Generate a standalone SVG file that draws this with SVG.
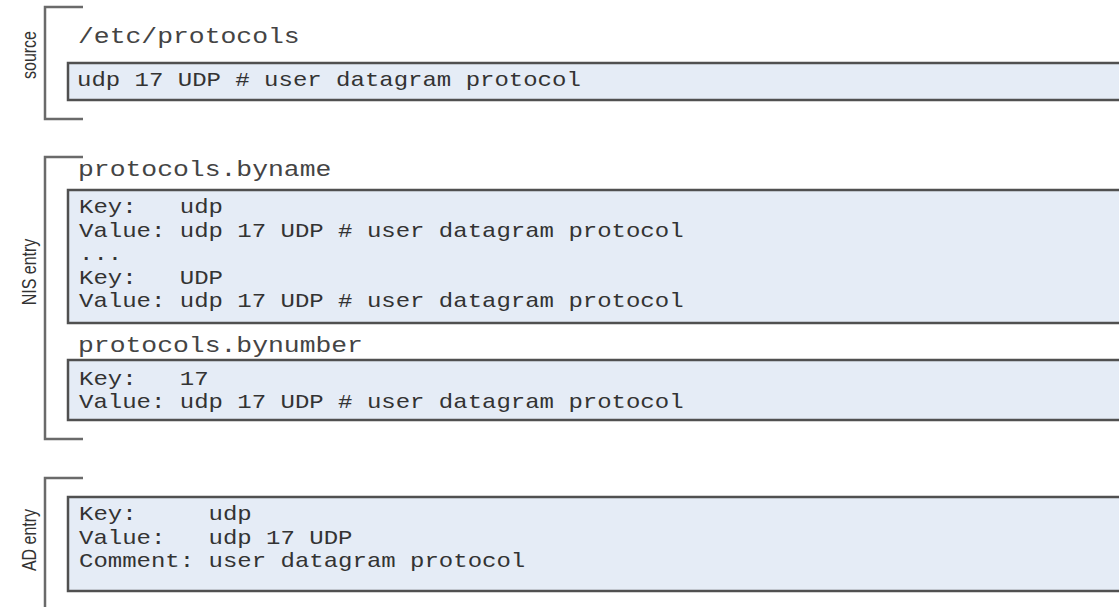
<svg xmlns="http://www.w3.org/2000/svg" width="1119" height="607" viewBox="0 0 1119 607">
<style>
.bracket{fill:none;stroke:#6a6a6a;stroke-width:2.5}
.box{fill:#e5ecf6;stroke:#505050;stroke-width:2.5}
.body{font-family:"Liberation Mono","Courier New",monospace;font-size:20px;fill:#333;white-space:pre}
.head{font-family:"Liberation Mono","Courier New",monospace;font-size:22px;fill:#444;white-space:pre}
.side{font-family:"Liberation Sans",Arial,sans-serif;font-size:16px;fill:#333;text-anchor:middle}
</style>
<rect width="1119" height="607" fill="#ffffff"/>
<g id="source">
<path class="bracket" d="M83,7 H45 V119 H83"/>
<text class="side" transform="translate(36,55) scale(1.25,1) rotate(-90)">source</text>
<text class="head" transform="translate(78,43) scale(1.2,1)">/etc/protocols</text>
<rect class="box" x="68" y="63" width="1070" height="37"/>
<text class="body" transform="translate(77,86) scale(1.2,1)">udp 17 UDP # user datagram protocol</text>
</g>
<g id="nis">
<path class="bracket" d="M83,157 H45 V439 H83"/>
<text class="side" transform="translate(36,272) scale(1.25,1) rotate(-90)">NIS entry</text>
<text class="head" transform="translate(78,176) scale(1.2,1)">protocols.byname</text>
<rect class="box" x="68" y="190" width="1070" height="133"/>
<text class="body" transform="translate(79,213) scale(1.2,1)">Key:   udp</text>
<text class="body" transform="translate(79,236.5) scale(1.2,1)">Value: udp 17 UDP # user datagram protocol</text>
<text class="body" transform="translate(79,260) scale(1.2,1)">...</text>
<text class="body" transform="translate(79,283.5) scale(1.2,1)">Key:   UDP</text>
<text class="body" transform="translate(79,307) scale(1.2,1)">Value: udp 17 UDP # user datagram protocol</text>
<text class="head" transform="translate(78,352) scale(1.2,1)">protocols.bynumber</text>
<rect class="box" x="68" y="360" width="1070" height="60"/>
<text class="body" transform="translate(79,385) scale(1.2,1)">Key:   17</text>
<text class="body" transform="translate(79,408) scale(1.2,1)">Value: udp 17 UDP # user datagram protocol</text>
</g>
<g id="ad">
<path class="bracket" d="M83,478 H45 V612"/>
<text class="side" transform="translate(36,540) scale(1.25,1) rotate(-90)">AD entry</text>
<rect class="box" x="68" y="497" width="1070" height="94"/>
<text class="body" transform="translate(79,520) scale(1.2,1)">Key:     udp</text>
<text class="body" transform="translate(79,543.5) scale(1.2,1)">Value:   udp 17 UDP</text>
<text class="body" transform="translate(79,567) scale(1.2,1)">Comment: user datagram protocol</text>
</g>
<g id="connectors"/>
</svg>
